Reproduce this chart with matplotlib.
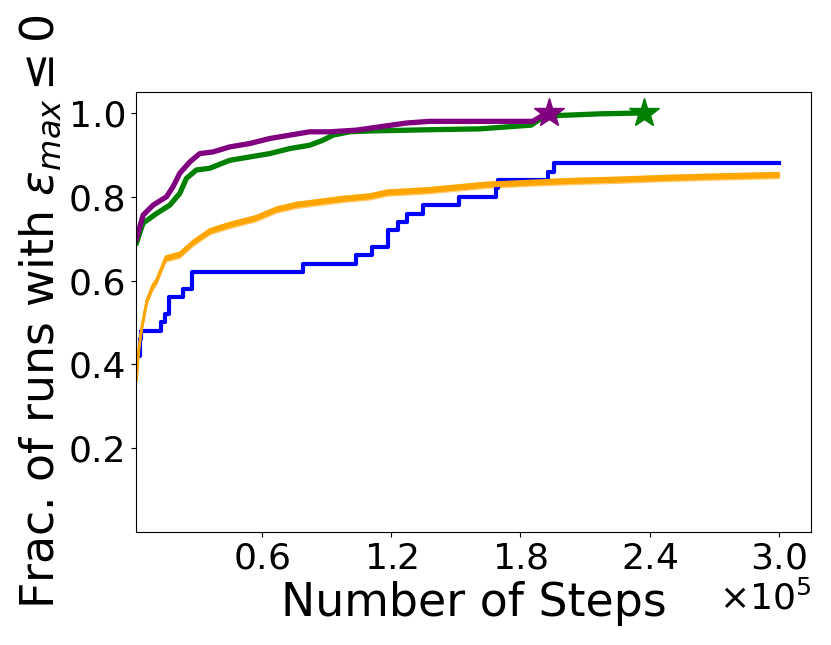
import matplotlib
matplotlib.use("Agg")
import matplotlib.pyplot as plt
import numpy as np

# ---- data ----
purple_x = [1720, 4780, 9430, 15650, 18710, 21820, 26460, 31110, 37280, 45040, 54320,
            63610, 72900, 82180, 91470, 103860, 116220, 127080, 137900, 185860, 189000, 193290]
purple_y = [0.70, 0.756, 0.78, 0.80, 0.824, 0.856, 0.883, 0.903, 0.907, 0.919, 0.927,
            0.939, 0.947, 0.955, 0.955, 0.959, 0.968, 0.976, 0.98, 0.98, 0.99, 1.0]

green_x = [1720, 4780, 11000, 17180, 21820, 24930, 29580, 35750, 45040, 54320, 63610,
           72900, 82180, 88360, 93000, 100750, 110040, 137900, 161110, 185110, 190500,
           198250, 217620, 237250]
green_y = [0.69, 0.737, 0.76, 0.78, 0.808, 0.844, 0.864, 0.868, 0.887, 0.895, 0.903,
           0.915, 0.923, 0.935, 0.947, 0.955, 0.957, 0.96, 0.962, 0.971, 0.99,
           0.994, 0.998, 1.0]

orange_x = [1720, 2790, 4040, 6500, 9290, 11140, 12540, 15320, 21820, 27860, 35750,
            45040, 57110, 66860, 76150, 85430, 97500, 110040, 117930, 137900, 164360,
            185260, 205690, 226580, 247480, 267910, 300000]
orange_y = [0.364, 0.435, 0.483, 0.55, 0.586, 0.60, 0.618, 0.653, 0.662, 0.69, 0.718,
            0.733, 0.749, 0.77, 0.781, 0.787, 0.795, 0.801, 0.81, 0.816, 0.829,
            0.834, 0.838, 0.841, 0.845, 0.848, 0.852]
orange_err = 0.009

blue_x = [2500, 3500, 4000, 13140, 14760, 16850, 23490, 27620, 79020, 103900, 110950,
          118380, 123400, 127530, 135000, 151580, 168520, 169500, 193040, 195450, 300000]
blue_y = [0.42, 0.46, 0.48, 0.50, 0.52, 0.56, 0.58, 0.62, 0.64, 0.66, 0.68,
          0.72, 0.74, 0.76, 0.78, 0.80, 0.82, 0.84, 0.86, 0.88, 0.88]

xticks = [60000, 120000, 180000, 240000, 300000]
yticks = [0.2, 0.4, 0.6, 0.8, 1.0]

# ---- figure ----
fig = plt.figure(figsize=(8.31, 6.45), dpi=100)
ax = fig.add_axes([136 / 831, 1 - 532 / 645, 675 / 831, 440 / 645])

ax.step(blue_x, blue_y, where="post", color="blue", lw=3)

ox = np.array(orange_x)
oy = np.array(orange_y)
ax.fill_between(ox, oy - orange_err, oy + orange_err, color="orange", alpha=0.6, lw=0)
ax.plot(ox, oy - orange_err * 0.5, color="orange", lw=1.5)
ax.plot(ox, oy + orange_err * 0.5, color="orange", lw=1.5)
ax.plot(ox, oy, color="orange", lw=2)

ax.plot(green_x, green_y, color="green", lw=3.8)
ax.plot(purple_x, purple_y, color="purple", lw=3.8)

ax.plot([purple_x[-1]], [purple_y[-1]], marker="*", color="purple", markersize=22)
ax.plot([green_x[-1]], [green_y[-1]], marker="*", color="green", markersize=22)

ax.set_xlim(1500, 315000)
ax.set_ylim(0, 1.05)
ax.set_xticks(xticks)
ax.set_yticks(yticks)
ax.ticklabel_format(axis="x", style="sci", scilimits=(0, 0), useMathText=True)
ax.tick_params(labelsize=26)
ax.xaxis.get_offset_text().set_fontsize(26)

ax.set_xlabel("Number of Steps", fontsize=33)
ax.set_ylabel(r"Frac. of runs with $\varepsilon_{max} \leq 0$", fontsize=33)

fig.savefig("out.png", dpi=100)
